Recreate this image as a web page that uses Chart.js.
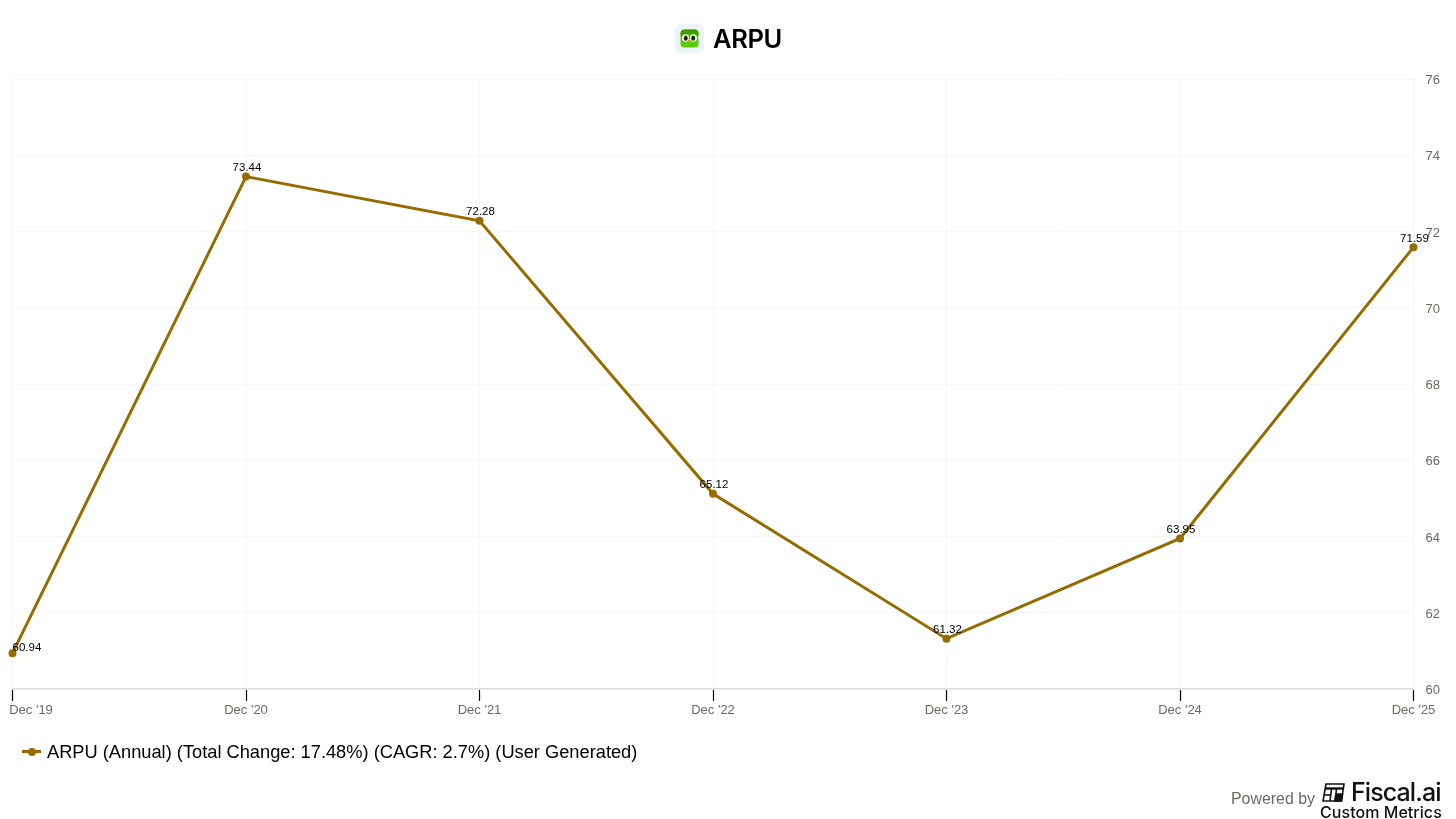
<!DOCTYPE html>
<html>
<head>
<meta charset="utf-8">
<title>ARPU</title>
<script src="https://cdn.jsdelivr.net/npm/chart.js@4/dist/chart.umd.min.js"></script>
<style>
    html, body { margin: 0; padding: 0; background: #fff; overflow: hidden; }
    body { width: 1456px; height: 819px; position: relative; font-family: "Liberation Sans", Arial, sans-serif; }
    canvas { position: absolute; left: 0; top: 0; }
    .title { position: absolute; left: 675px; top: 24px; height: 29px; display: flex; align-items: center; }
    .title span { margin-left: 9px; font: 600 25.5px Inter, "Liberation Sans", sans-serif; color: #000; letter-spacing: -0.4px; }
    .legend { position: absolute; left: 22px; top: 741px; display: flex; align-items: center; font-size: 18.25px; line-height: 21px; color: #000; }
    .legend i { position: relative; display: block; width: 19px; height: 3px; background: #966c00; margin-right: 6px; }
    .legend i::after { content: ""; position: absolute; left: 5.5px; top: -2.5px; width: 8px; height: 8px; border-radius: 50%; background: #966c00; }
    .powered { position: absolute; left: 1231px; top: 790px; font-size: 15.9px; color: #6e6862; }
    .brand { position: absolute; left: 1322px; top: 777px; display: flex; align-items: center; font: 500 25px Inter, "Liberation Sans", sans-serif; letter-spacing: -0.9px; color: #111; }
    .brand svg { margin-right: 6px; }
    .sub { position: absolute; left: 1320px; top: 802px; font: 500 16px Inter, "Liberation Sans", sans-serif; color: #111; letter-spacing: 0.05px; }
</style>
</head>
<body>
<canvas id="chartArpu" width="1456" height="819"></canvas>

<div class="title">
    <svg width="29" height="29" viewBox="0 0 29 29">
        <rect width="29" height="29" rx="6" fill="#eef2f9"/>
        <rect x="5.5" y="5.5" width="18" height="18" rx="4" fill="#58cc02"/>
        <path d="M5.5 9.5 Q5.5 5.5 9.5 5.5 H19.5 Q23.5 5.5 23.5 9.5 V12 L14.5 10 L5.5 12 Z" fill="#3f9f00"/>
        <ellipse cx="10.5" cy="14" rx="3.4" ry="3.8" fill="#fff"/>
        <ellipse cx="18.5" cy="14" rx="3.4" ry="3.8" fill="#fff"/>
        <ellipse cx="10.8" cy="14.2" rx="1.9" ry="2.6" fill="#1c1c1c"/>
        <ellipse cx="18.2" cy="14.2" rx="1.9" ry="2.6" fill="#1c1c1c"/>
        <path d="M12.8 16.5 H16.2 L14.5 19.5 Z" fill="#f5a000"/>
    </svg>
    <span id="chartTitle"></span>
</div>

<div class="legend"><i></i><span id="legendText"></span></div>

<div class="powered">Powered by</div>
<div class="brand">
    <svg width="23" height="19" viewBox="0 0 23 19" fill="none" stroke="#111" stroke-width="1.6">
        <path d="M4 1 H22 L19.5 18 H1 Z"/>
        <path d="M3.4 5.5 H21.3" stroke-width="2.4"/>
        <path d="M9.5 6 L8 18"/>
        <path d="M14.5 6 L13 18"/>
        <path d="M2.5 12 H8.5"/>
        <path d="M14 11 H20.5 L19.5 18 H13 Z" fill="#111"/>
    </svg>
    Fiscal.ai
</div>
<div class="sub">Custom Metrics</div>

<script>
/* ============================ Data  ============================ */
const chartName = "ARPU";
const seriesLabel = "ARPU (Annual) (Total Change: 17.48%) (CAGR: 2.7%) (User Generated)";
const categories = ["Dec '19", "Dec '20", "Dec '21", "Dec '22", "Dec '23", "Dec '24", "Dec '25"];
const arpuValues = [60.94, 73.44, 72.28, 65.12, 61.32, 63.95, 71.59];

document.getElementById("chartTitle").textContent = chartName;
document.getElementById("legendText").textContent = seriesLabel;

/* ============================ Point labels  ============================ */
const pointLabels = {
    id: "pointLabels",
    afterDatasetsDraw(chart) {
        const ctx = chart.ctx;
        const points = chart.getDatasetMeta(0).data;
        ctx.save();
        ctx.font = '11.5px "Liberation Sans", Arial, sans-serif';
        ctx.fillStyle = "#000";
        ctx.textBaseline = "middle";
        points.forEach(function (point, i) {
            // first label is pushed right and down so it stays on the page
            ctx.textAlign = i === 0 ? "left" : "center";
            ctx.fillText(arpuValues[i].toFixed(2), point.x + (i === 0 ? 0 : 1), point.y - (i === 0 ? 5.5 : 8.5));
        });
        ctx.restore();
    },
};

// the first x label sits inside the page instead of centred on its tick
const shiftFirstLabel = {
    id: "shiftFirstLabel",
    beforeDraw(chart) {
        const first = chart.scales.x.getLabelItems()[0];
        if (first && !first.shifted) {
            first.options.translation[0] += 18.5;
            first.shifted = true;
        }
    },
};

/* ============================ Chart  ============================ */
const arpuChart = new Chart(document.getElementById("chartArpu"), {
    type: "line",
    data: {
        labels: categories,
        datasets: [
            {
                label: seriesLabel,
                data: arpuValues,
                borderColor: "#966c00",
                backgroundColor: "#966c00",
                borderWidth: 3,
                pointRadius: 4,
                pointBorderWidth: 0,
                tension: 0,
                clip: false,
            },
        ],
    },
    options: {
        responsive: false,
        animation: false,
        layout: {
            padding: { left: 12.5, right: 0, top: 79, bottom: 102 },
        },
        plugins: {
            legend: { display: false },
            title: { display: false },
            tooltip: { enabled: false },
        },
        scales: {
            x: {
                offset: false,
                border: { color: "#dcdcdc", width: 1.5 },
                grid: {
                    color: "#f6f6f6",
                    tickColor: "#000",
                    tickLength: 12,
                    tickWidth: 1.2,
                },
                ticks: {
                    color: "#6e6862",
                    font: { size: 13, family: '"Liberation Sans", Arial, sans-serif' },
                    padding: 2,
                    maxRotation: 0,
                    autoSkip: false,
                },
                afterFit(scale) {
                    scale.height = 28;
                    scale.paddingLeft = 0;
                    scale.paddingRight = 0;
                },
            },
            y: {
                position: "right",
                min: 60,
                max: 76,
                border: { display: false },
                grid: { color: "#f6f6f6", drawTicks: false },
                ticks: {
                    stepSize: 2,
                    color: "#6e6862",
                    padding: 12,
                    labelOffset: 1.5,
                    font: { size: 13, family: '"Liberation Sans", Arial, sans-serif' },
                },
                afterFit(scale) {
                    scale.width = 42.5;
                },
            },
        },
    },
    plugins: [shiftFirstLabel, pointLabels],
});
</script>
</body>
</html>
